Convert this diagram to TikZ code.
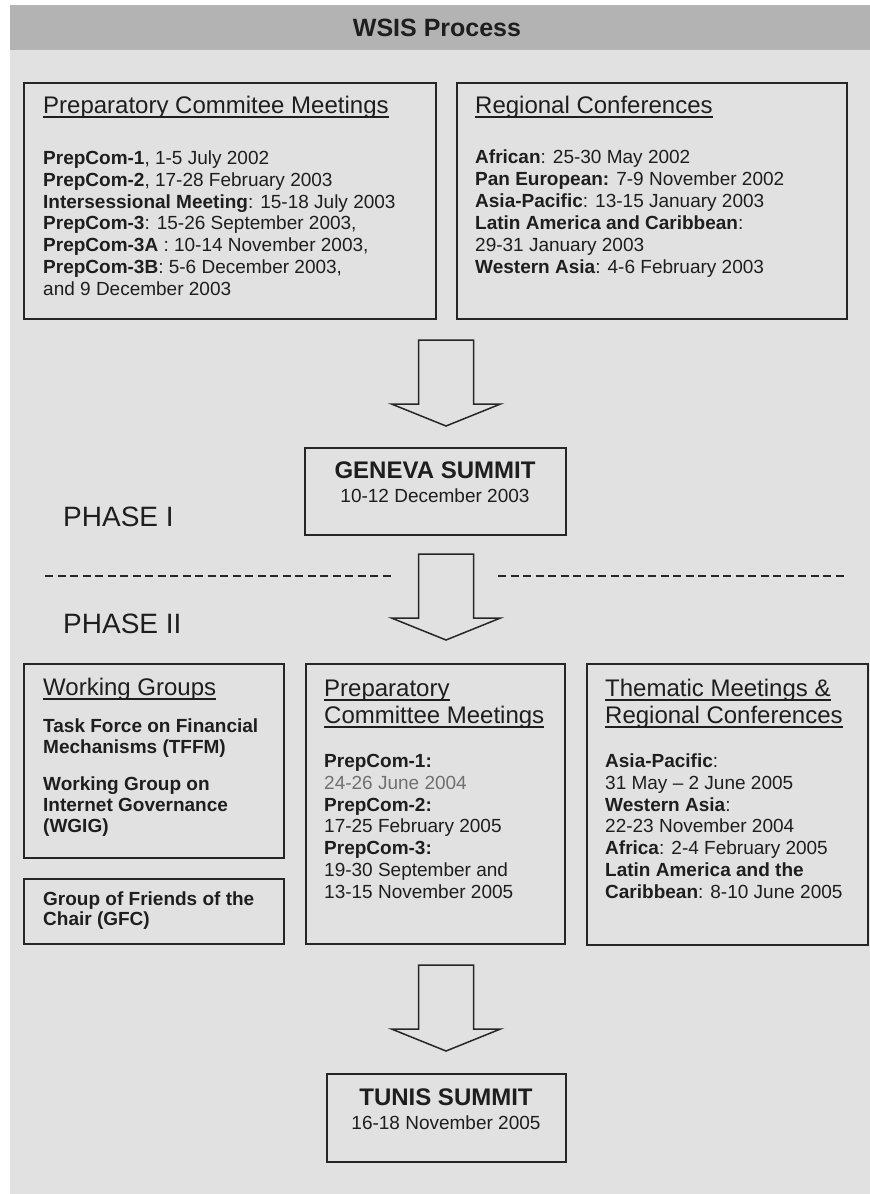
\documentclass[tikz,border=0pt]{standalone}
\usepackage{fontspec}
\setmainfont{Liberation Sans}
\definecolor{pagegray}{HTML}{E1E1E1}
\definecolor{bandgray}{HTML}{B3B3B3}
\definecolor{ink}{HTML}{1E1E1E}
\definecolor{frame}{HTML}{262626}
\definecolor{faded}{HTML}{707070}
\newsavebox\ulbox
\newcommand\ulhead[1]{\sbox\ulbox{#1}\rlap{\rule[-4.6pt]{\wd\ulbox}{1.5pt}}\usebox\ulbox}
% multi-line nodes: the base anchor sits on the last line
\tikzset{
  panel/.style={draw=frame, line width=1.5pt, anchor=north west, inner sep=0pt},
  heading/.style={anchor=base west, align=left, inner sep=0pt, text=ink, font=\fontsize{24}{27}\selectfont},
  entry/.style={anchor=base west, align=left, inner sep=0pt, text=ink, font=\fontsize{19}{21.7}\selectfont},
  phase/.style={anchor=base west, inner sep=0pt, text=ink, font=\fontsize{28}{30}\selectfont},
  summit/.style={anchor=base, align=center, inner sep=0pt, text=ink, font=\fontsize{19}{24}\selectfont},
  divider/.style={draw=frame, line width=1.4pt, dash pattern=on 8pt off 4.5pt},
  blockdown/.pic={
    \draw[frame, line width=1.5pt, fill=pagegray]
      (-27.5,0) -- (27.5,0) -- (27.5,64) -- (54.5,64) -- (0,86)
      -- (-54.5,64) -- (-27.5,64) -- cycle;
  }
}
\begin{document}
\begin{tikzpicture}[x=1pt,y=-1pt]
  \useasboundingbox (0,0) rectangle (870,1194);
  \fill[white] (0,0) rectangle (870,1194);
  \fill[pagegray] (10,5) rectangle (870,1194);
  \fill[bandgray] (10,5) rectangle (870,50);
  \node[anchor=base, inner sep=0pt, text=ink, font=\fontsize{25}{28}\selectfont\bfseries]
    (title) at (437,36) {WSIS Process};

  % phase I
  \node[panel, minimum width=412pt, minimum height=236pt] (prepone) at (23,82) {};
  \node[heading] (prepone head) at (43,113) {\ulhead{Preparatory Commitee Meetings}};
  \node[entry] (prepone list) at (43,295) {%
    \textbf{PrepCom-1}, 1-5 July 2002\\
    \textbf{PrepCom-2}, 17-28 February 2003\\
    \textbf{Intersessional Meeting}: 15-18 July 2003\\
    \textbf{PrepCom-3}: 15-26 September 2003,\\
    \textbf{PrepCom-3A} : 10-14 November 2003,\\
    \textbf{PrepCom-3B}: 5-6 December 2003,\\
    and 9 December 2003};

  \node[panel, minimum width=390pt, minimum height=236pt] (regional) at (456,82) {};
  \node[heading] (regional head) at (475,113) {\ulhead{Regional Conferences}};
  \node[entry, font=\fontsize{19}{22}\selectfont] (regional list) at (475,273) {%
    \textbf{African}: 25-30 May 2002\\
    \textbf{Pan European:} 7-9 November 2002\\
    \textbf{Asia-Pacific}: 13-15 January 2003\\
    \textbf{Latin America and Caribbean}:\\
    29-31 January 2003\\
    \textbf{Western Asia}: 4-6 February 2003};

  \pic (arrowone) at (446,340) {blockdown};

  \node[panel, minimum width=261pt, minimum height=87pt] (geneva) at (304,447) {};
  \node[summit] (geneva text) at (435,502) {%
    {\fontsize{24}{24}\selectfont\bfseries GENEVA SUMMIT}\\
    10-12 December 2003};

  \node[phase] (phaseone) at (63,526) {PHASE I};

  \draw[divider] (45,576) coordinate (cutleft) -- (392,576);
  \draw[divider] (498,576) -- (846,576) coordinate (cutright);

  \pic (arrowtwo) at (446,554) {blockdown};

  % phase II
  \node[phase] (phasetwo) at (63,633) {PHASE II};

  \node[panel, minimum width=260pt, minimum height=194pt] (working) at (23,663) {};
  \node[heading] (working head) at (43,695) {\ulhead{Working Groups}};
  \node[entry, font=\fontsize{19}{21}\selectfont\bfseries] (working list) at (43,832) {%
    Task Force on Financial\\
    Mechanisms (TFFM)\\[16pt]
    Working Group on\\
    Internet Governance\\
    (WGIG)};

  \node[panel, minimum width=260pt, minimum height=65pt] (friends) at (23,878) {};
  \node[entry, font=\fontsize{19}{20.5}\selectfont\bfseries] (friends text) at (43,925.5) {%
    Group of Friends of the\\
    Chair (GFC)};

  \node[panel, minimum width=259pt, minimum height=280pt] (preptwo) at (305,663) {};
  \node[heading] (preptwo head) at (324,723) {%
    \ulhead{Preparatory}\\
    \ulhead{Committee Meetings}};
  \node[entry] (preptwo list) at (324,898) {%
    \textbf{PrepCom-1:}\\
    {\color{faded}24-26 June 2004}\\
    \textbf{PrepCom-2:}\\
    17-25 February 2005\\
    \textbf{PrepCom-3:}\\
    19-30 September and\\
    13-15 November 2005};

  \node[panel, minimum width=281pt, minimum height=281pt] (thematic) at (586,663) {};
  \node[heading] (thematic head) at (605,723) {%
    \ulhead{Thematic Meetings \&}\\
    \ulhead{Regional Conferences}};
  \node[entry] (thematic list) at (605,898) {%
    \textbf{Asia-Pacific}:\\
    31 May \textendash{} 2 June 2005\\
    \textbf{Western Asia}:\\
    22-23 November 2004\\
    \textbf{Africa}: 2-4 February 2005\\
    \textbf{Latin America and the}\\
    \textbf{Caribbean}: 8-10 June 2005};

  \pic (arrowthree) at (446,965) {blockdown};

  \node[panel, minimum width=239pt, minimum height=88pt] (tunis) at (326,1073) {};
  \node[summit] (tunis text) at (446,1129) {%
    {\fontsize{24}{24}\selectfont\bfseries TUNIS SUMMIT}\\
    16-18 November 2005};
\end{tikzpicture}
\end{document}
